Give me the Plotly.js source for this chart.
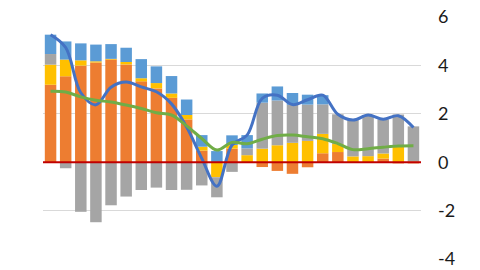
<!DOCTYPE html>
<html>
<head>
<meta charset="utf-8">
<script src="https://cdn.plot.ly/plotly-3.0.1.min.js"></script>
<style>
  html, body { margin: 0; padding: 0; background: #ffffff; }
  #chart { width: 480px; height: 270px; }
</style>
</head>
<body>
<div id="chart"></div>
<script>
// Periods (no labels shown on the chart)
const periods = ["P1","P2","P3","P4","P5","P6","P7","P8","P9","P10","P11","P12","P13",
                 "P14","P15","P16","P17","P18","P19","P20","P21","P22","P23","P24","P25"];

// Stacked contributions
const orangeVals = [3.20, 3.55, 3.99, 4.12, 4.24, 4.04, 3.34, 3.05, 2.66, 1.77, 0.48, 0.00, 0.56,
                    0.00, -0.20, -0.36, -0.48, -0.21, 0.37, 0.42, 0.00, 0.00, 0.15, -0.05, -0.05];
const yellowVals = [0.83, 0.69, 0.22, 0.05, 0.03, 0.10, 0.13, 0.22, 0.18, 0.18, 0.16, -0.62, 0.15,
                    0.29, 0.56, 0.70, 0.80, 0.88, 0.80, 0.33, 0.24, 0.25, 0.21, 0.65, 0.03];
const grayVals   = [0.44, -0.25, -2.05, -2.48, -1.78, -1.42, -1.15, -1.05, -1.15, -1.14, -0.96, -0.83, -0.40,
                    0.28, 1.90, 1.85, 1.57, 1.50, 1.22, 1.23, 1.50, 1.70, 1.41, 1.32, 1.45];
const blueVals   = [0.80, 0.75, 0.70, 0.69, 0.61, 0.59, 0.79, 0.69, 0.72, 0.64, 0.48, 0.46, 0.40,
                    0.55, 0.38, 0.58, 0.49, 0.41, 0.38, 0.00, 0.00, 0.00, 0.00, 0.00, 0.00];

// Lines
const totalLine = [5.27, 4.74, 2.87, 2.37, 3.10, 3.31, 3.11, 2.91, 2.41, 1.45, 0.16, -0.99, 0.71,
                   1.12, 2.64, 2.77, 2.38, 2.58, 2.77, 1.98, 1.74, 1.95, 1.77, 1.92, 1.43];
const greenLine = [2.93, 2.90, 2.70, 2.56, 2.49, 2.36, 2.22, 2.04, 1.95, 1.50, 0.98, 0.50, 0.82,
                   0.76, 0.95, 1.10, 1.12, 1.05, 0.97, 0.77, 0.52, 0.56, 0.62, 0.67, 0.68];

const yTicks = [-4, -2, 0, 2, 4, 6];

function barTrace(vals, color) {
  return { type: 'bar', x: periods, y: vals, marker: { color: color, line: { width: 0 } },
           hoverinfo: 'skip' };
}

const data = [
  barTrace(orangeVals, '#ED7D31'),
  barTrace(yellowVals, '#FFC000'),
  barTrace(grayVals,   '#A5A5A5'),
  barTrace(blueVals,   '#5B9BD5'),
  { type: 'scatter', mode: 'lines', x: periods, y: totalLine,
    line: { color: '#4472C4', width: 3, shape: 'spline', smoothing: 1 } },
  { type: 'scatter', mode: 'lines', x: periods, y: greenLine,
    line: { color: '#70AD47', width: 3, shape: 'spline', smoothing: 1 } }
];

const layout = {
  width: 480, height: 270,
  margin: { l: 43, r: 59, t: 17, b: 11, pad: 0 },
  paper_bgcolor: '#ffffff', plot_bgcolor: '#ffffff',
  showlegend: false,
  barmode: 'relative',
  bargap: 0.24,
  xaxis: { type: 'category', showticklabels: false, showgrid: false, zeroline: false,
           showline: false, ticks: '' },
  yaxis: { side: 'right', range: [-4, 6], tickvals: yTicks, ticktext: yTicks.map(String),
           showgrid: true, gridcolor: '#D9D9D9', gridwidth: 1, zeroline: false,
           showline: false, ticks: '', ticklabelstandoff: 16,
           tickfont: { family: 'Lato, "Open Sans", sans-serif', size: 18, color: '#1a1a1a' } },
  shapes: [
    { type: 'line', xref: 'paper', x0: 0, x1: 1, yref: 'y', y0: 0, y1: 0,
      line: { color: '#C00000', width: 2 }, layer: 'above' }
  ]
};

Plotly.newPlot('chart', data, layout, { staticPlot: true, displayModeBar: false });
</script>
</body>
</html>
